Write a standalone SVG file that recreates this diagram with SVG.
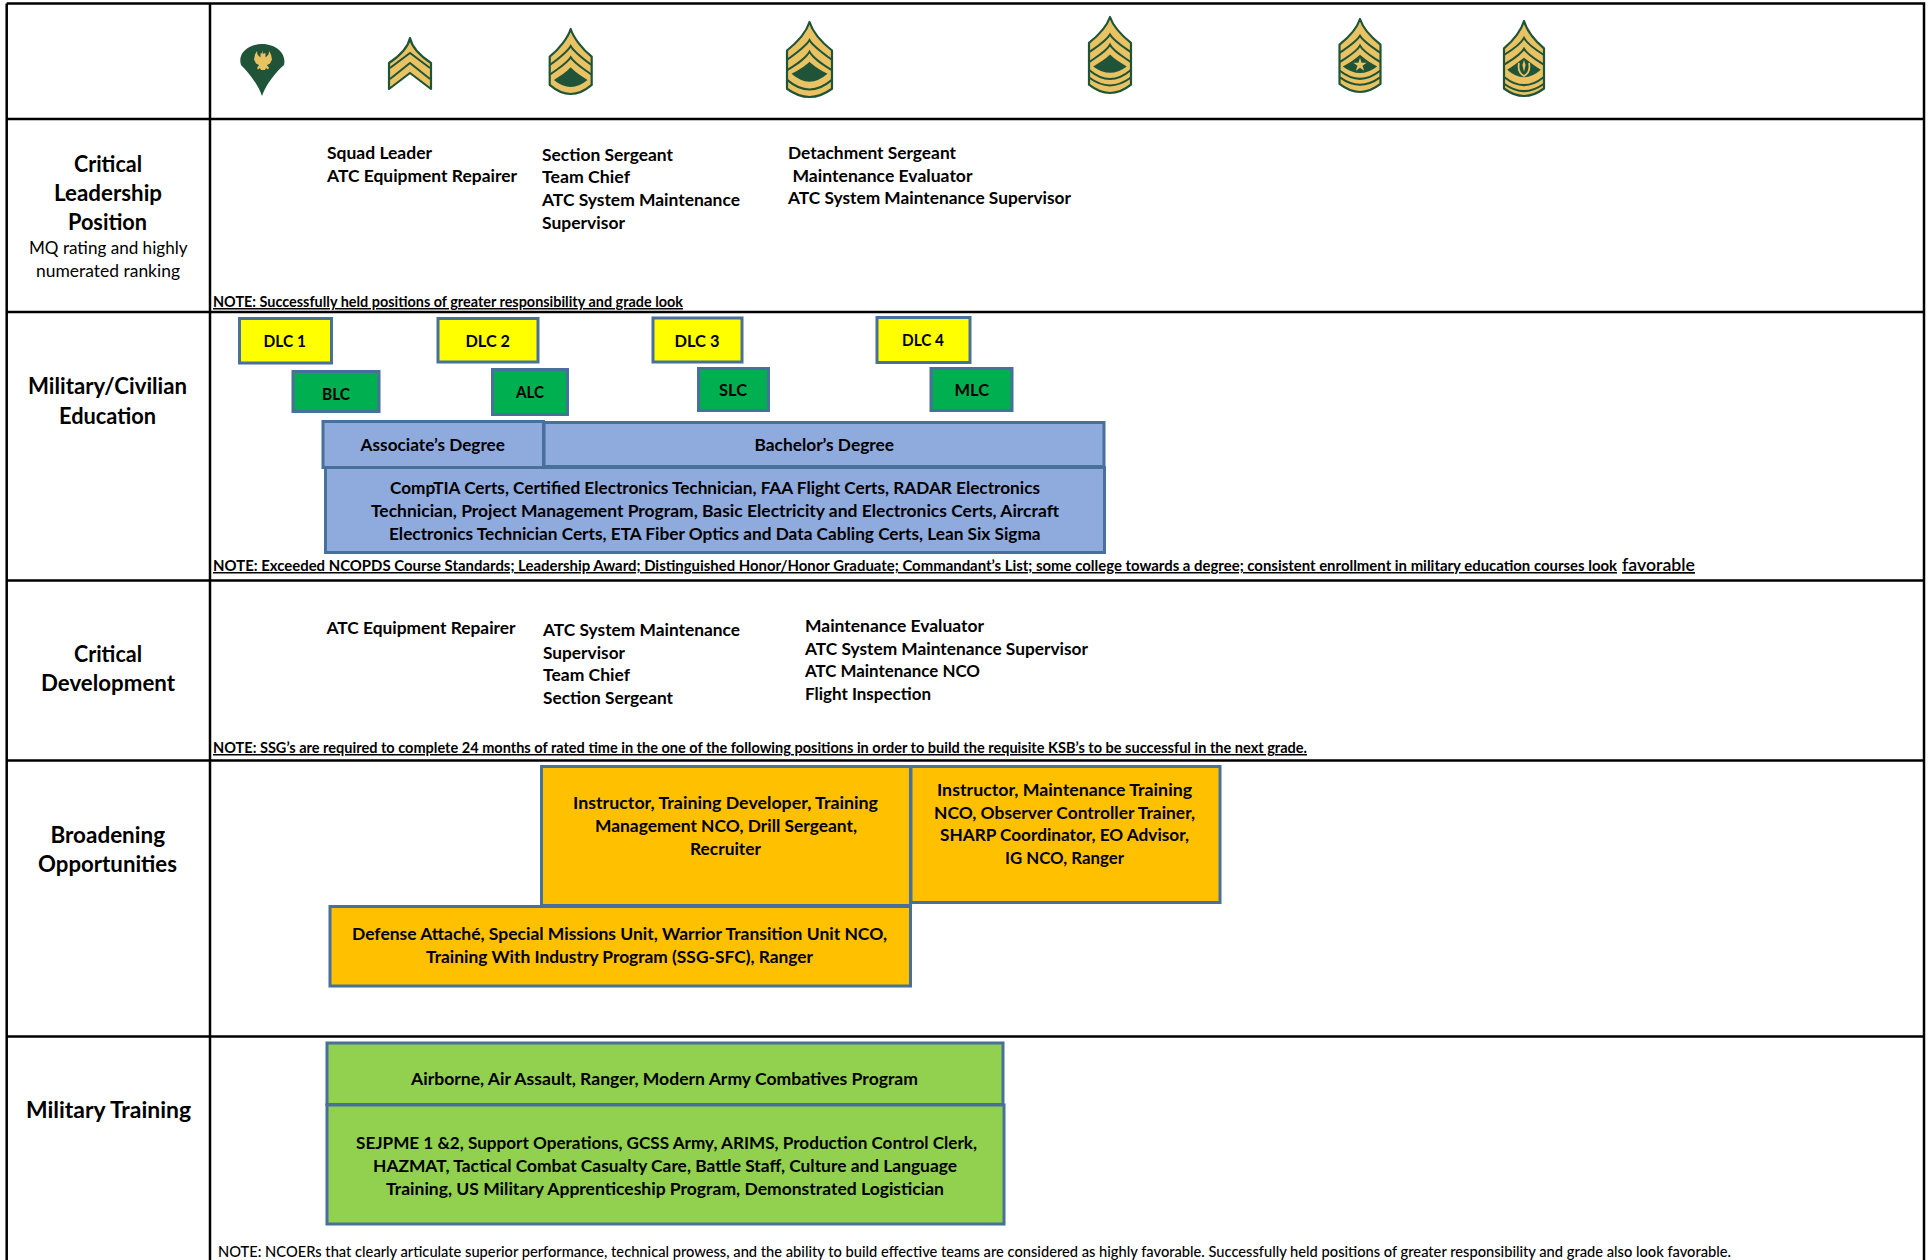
<svg xmlns="http://www.w3.org/2000/svg" width="1932" height="1260" viewBox="0 0 1932 1260">
<style>
text{font-family:"Lato","Liberation Sans",sans-serif;fill:#000;white-space:pre}
.h{font-size:22px;font-weight:700}
.s{font-size:17px;font-weight:400}
.t{font-size:17px;font-weight:700}
.n{font-size:15px;font-weight:700;text-decoration:underline}
.fav{font-size:17px;font-weight:600;text-decoration:underline}
.m{font-size:15px;font-weight:500}
.grid{stroke:#000;stroke-width:2.5;fill:none}
.box{stroke:#47719c;stroke-width:3}
.y{fill:#ffff00}.g{fill:#00b050}.b{fill:#8faadc}.o{fill:#ffc000}.l{fill:#92d050}
.bo{fill:#e9c263;stroke:#1f5438;stroke-width:2.2;stroke-linejoin:round;vector-effect:non-scaling-stroke}
.li{fill:none;stroke:#1f5438;stroke-width:2;vector-effect:non-scaling-stroke}
.le{fill:#1f5438;stroke:none}
.go{fill:#e9c263;stroke:none}
</style>
<g id="table" class="grid">
<path d="M6.7 3.500H1924V1260M6.700 3.500V1260M210 3.500V1260M6.700 119H1924M6.700 312H1924M6.700 580.500H1924M6.700 760.500H1924M6.700 1036.500H1924"/>
</g>
<g id="insignia">
<g id="spc">
<path class="le" d="M262 96C258 84 248 72 241 65C237 52 250 44 262 44C274 44 287 52 284 65C276 72 266 84 262 96Z"/>
<path class="go" d="M262 50l1.500 4 1-1 1 .5v4l3-3 .5-3.500 2 3.500 1 5-2 4-3 1.500 2 3-1 1.500-2-1.500-1 2h-4l-1-2-2 1.500-1-1.500 2-3-3-1.500-2-4 1-5 2-3.500 .5 3.500 3 3v-4l1-.5 1 1z"/>
</g>
<g id="sgt" transform="translate(410,38)">
<path class="bo" d="M0 0C2 10 12 19 21 25V51L0 35L-21 51V25C-12 19 -2 10 0 0Z"/>
<path class="li" d="M-20 30L0 15L20 30M-20 41L0 25L20 41"/>
</g>
<g id="ssg" transform="translate(570.7,29) scale(.42,.325)">
<path class="bo" d="M0 0C6 25 26 60 50 85V172Q25 200 0 200Q-25 200 -50 172V85C-26 60 -6 25 0 0Z"/>
<path class="li" d="M-49 110C-28 90 -8 70 0 52C8 70 28 90 49 110M-49 140C-28 120 -8 105 0 87C8 105 28 120 49 140"/>
<path class="le" d="M0 118C-10 132 -26 146 -40 157Q0 200 40 157C26 146 10 132 0 118Z"/>
</g>
<g id="sfc" transform="translate(809.5,22) scale(.45,.375)">
<path class="bo" d="M0 0C6 23 26 53 50 76V178Q25 200 0 200Q-25 200 -50 178V76C-26 53 -6 23 0 0Z"/>
<path class="li" d="M-49 100C-28 82 -8 65 0 48C8 65 28 82 49 100M-49 128C-28 112 -8 97 0 79C8 97 28 112 49 128M-49 155Q0 205 49 155"/>
<path class="le" d="M0 106C-10 118 -26 130 -40 138Q0 180 40 138C26 130 10 118 0 106Z"/>
</g>
<g id="msg" transform="translate(1110,17) scale(.42,.38)">
<path class="bo" d="M0 0C6 20 26 47 50 68V178Q25 200 0 200Q-25 200 -50 178V68C-26 47 -6 20 0 0Z"/>
<path class="li" d="M-49 92C-28 76 -8 62 0 46C8 62 28 76 49 92M-49 118C-28 102 -8 90 0 73C8 90 28 102 49 118M-49 140Q0 186 49 140M-49 160Q0 200 49 160"/>
<path class="le" d="M0 99C-12 112 -26 122 -40 130Q0 164 40 130C26 122 12 112 0 99Z"/>
</g>
<g id="sgm">
<g transform="translate(1360,19) scale(.41,.365)">
<path class="bo" d="M0 0C6 21 26 49 50 70V178Q25 200 0 200Q-25 200 -50 178V70C-26 49 -6 21 0 0Z"/>
<path class="li" d="M-49 92C-28 76 -8 62 0 46C8 62 28 76 49 92M-49 118C-28 102 -8 90 0 73C8 90 28 102 49 118M-49 142Q0 186 49 142M-49 160Q0 200 49 160"/>
<path class="le" d="M0 98C-12 110 -28 122 -42 130Q0 166 42 130C28 122 12 110 0 98Z"/>
</g>
<polygon class="go" transform="translate(1360,65)" points="0,-7 1.59,-2.18 6.66,-2.16 2.57,.83 4.11,5.66 0,2.7 -4.11,5.66 -2.57,.83 -6.66,-2.16 -1.59,-2.18"/>
</g>
<g id="csm">
<g transform="translate(1524,21) scale(.4,.375)">
<path class="bo" d="M0 0C6 22 26 51 50 73V180Q25 200 0 200Q-25 200 -50 180V73C-26 51 -6 22 0 0Z"/>
<path class="li" d="M-49 90C-28 76 -8 62 0 45C8 62 28 76 49 90M-49 116C-28 102 -8 90 0 74C8 90 28 102 49 116M-49 150Q0 192 49 150M-49 168Q0 206 49 168"/>
<path class="le" d="M0 98C-14 110 -30 122 -42 130Q0 170 42 130C30 122 14 110 0 98Z"/>
</g>
<path d="M1519 63Q1517 72 1524 76Q1531 72 1529 63" fill="none" stroke="#e9c263" stroke-width="1.8"/>
<path class="go" d="M1524 60l1.600 5-1.600 7-1.600-7z"/>
</g>
</g>
<g id="row-labels">
<g id="label-leadership">
<text class="h" x="74" y="172" textLength="68" lengthAdjust="spacingAndGlyphs">Critical</text>
<text class="h" x="54" y="201" textLength="108" lengthAdjust="spacingAndGlyphs">Leadership</text>
<text class="h" x="68" y="230" textLength="79" lengthAdjust="spacingAndGlyphs">Position</text>
<text class="s" x="29" y="254" textLength="158.500" lengthAdjust="spacingAndGlyphs">MQ rating and highly</text>
<text class="s" x="36" y="277" textLength="144" lengthAdjust="spacingAndGlyphs">numerated ranking</text>
</g>
<g id="label-education">
<text class="h" x="28" y="394" textLength="159" lengthAdjust="spacingAndGlyphs">Military/Civilian</text>
<text class="h" x="59" y="424" textLength="97" lengthAdjust="spacingAndGlyphs">Education</text>
</g>
<g id="label-development">
<text class="h" x="74" y="662" textLength="68" lengthAdjust="spacingAndGlyphs">Critical</text>
<text class="h" x="41" y="691" textLength="134" lengthAdjust="spacingAndGlyphs">Development</text>
</g>
<g id="label-broadening">
<text class="h" x="50.500" y="843" textLength="114.500" lengthAdjust="spacingAndGlyphs">Broadening</text>
<text class="h" x="38" y="872" textLength="139" lengthAdjust="spacingAndGlyphs">Opportunities</text>
</g>
<g id="label-training">
<text class="h" x="26" y="1118" textLength="165" lengthAdjust="spacingAndGlyphs">Military Training</text>
</g>
</g>
<g id="leadership-positions">
<text class="t" x="327" y="159" textLength="105" lengthAdjust="spacingAndGlyphs">Squad Leader</text>
<text class="t" x="327" y="182" textLength="190" lengthAdjust="spacingAndGlyphs">ATC Equipment Repairer</text>
<text class="t" x="542" y="161" textLength="131" lengthAdjust="spacingAndGlyphs">Section Sergeant</text>
<text class="t" x="542" y="183" textLength="88" lengthAdjust="spacingAndGlyphs">Team Chief</text>
<text class="t" x="542" y="206" textLength="198" lengthAdjust="spacingAndGlyphs">ATC System Maintenance</text>
<text class="t" x="542" y="229" textLength="83" lengthAdjust="spacingAndGlyphs">Supervisor</text>
<text class="t" x="788" y="159" textLength="168" lengthAdjust="spacingAndGlyphs">Detachment Sergeant</text>
<text class="t" x="792.500" y="182" textLength="180" lengthAdjust="spacingAndGlyphs">Maintenance Evaluator</text>
<text class="t" x="788" y="204" textLength="283" lengthAdjust="spacingAndGlyphs">ATC System Maintenance Supervisor</text>
<text class="n" x="213" y="307" textLength="470" lengthAdjust="spacingAndGlyphs">NOTE: Successfully held positions of greater responsibility and grade look</text>
</g>
<g id="education-note">
<text class="n" x="213" y="571" textLength="1404" lengthAdjust="spacingAndGlyphs">NOTE: Exceeded NCOPDS Course Standards; Leadership Award; Distinguished Honor/Honor Graduate; Commandant’s List; some college towards a degree; consistent enrollment in military education courses look</text>
<text class="fav" x="1622" y="571" textLength="73" lengthAdjust="spacingAndGlyphs">favorable</text>
</g>
<g id="dlc1"><rect class="box y" x="239.500" y="318.500" width="92" height="44.500"/><text class="t" x="263.600" y="347" textLength="42.400" lengthAdjust="spacingAndGlyphs">DLC 1</text></g>
<g id="dlc2"><rect class="box y" x="438" y="318.500" width="100" height="43.500"/><text class="t" x="465.500" y="347" textLength="44.500" lengthAdjust="spacingAndGlyphs">DLC 2</text></g>
<g id="dlc3"><rect class="box y" x="653" y="318" width="89" height="44"/><text class="t" x="674.500" y="347" textLength="45" lengthAdjust="spacingAndGlyphs">DLC 3</text></g>
<g id="dlc4"><rect class="box y" x="877" y="317.500" width="93" height="45"/><text class="t" x="902" y="346" textLength="42" lengthAdjust="spacingAndGlyphs">DLC 4</text></g>
<g id="blc"><rect class="box g" x="293" y="371.500" width="86" height="40"/><text class="t" x="322" y="400" textLength="28" lengthAdjust="spacingAndGlyphs">BLC</text></g>
<g id="alc"><rect class="box g" x="492.500" y="369.500" width="75" height="45"/><text class="t" x="516" y="398" textLength="28" lengthAdjust="spacingAndGlyphs">ALC</text></g>
<g id="slc"><rect class="box g" x="698.500" y="368.500" width="70" height="42"/><text class="t" x="719" y="396" textLength="28" lengthAdjust="spacingAndGlyphs">SLC</text></g>
<g id="mlc"><rect class="box g" x="931" y="368.500" width="81" height="42"/><text class="t" x="954.500" y="396" textLength="34.500" lengthAdjust="spacingAndGlyphs">MLC</text></g>
<g id="associate"><rect class="box b" x="323" y="421.500" width="220.500" height="46"/><text class="t" x="360.600" y="451" textLength="144.400" lengthAdjust="spacingAndGlyphs">Associate’s Degree</text></g>
<g id="bachelor"><rect class="box b" x="544" y="422.500" width="560" height="44"/><text class="t" x="754.500" y="451" textLength="139.500" lengthAdjust="spacingAndGlyphs">Bachelor’s Degree</text></g>
<g id="certs"><rect class="box b" x="325.500" y="467.500" width="779" height="85"/>
<text class="t" x="390" y="494" textLength="650" lengthAdjust="spacingAndGlyphs">CompTIA Certs, Certified Electronics Technician, FAA Flight Certs, RADAR Electronics</text>
<text class="t" x="371" y="517" textLength="688" lengthAdjust="spacingAndGlyphs">Technician, Project Management Program, Basic Electricity and Electronics Certs, Aircraft</text>
<text class="t" x="389" y="540" textLength="651.600" lengthAdjust="spacingAndGlyphs">Electronics Technician Certs, ETA Fiber Optics and Data Cabling Certs, Lean Six Sigma</text>
</g>
<g id="development-positions">
<text class="t" x="326.500" y="634" textLength="189" lengthAdjust="spacingAndGlyphs">ATC Equipment Repairer</text>
<text class="t" x="543" y="636" textLength="197" lengthAdjust="spacingAndGlyphs">ATC System Maintenance</text>
<text class="t" x="543" y="659" textLength="82" lengthAdjust="spacingAndGlyphs">Supervisor</text>
<text class="t" x="543" y="681" textLength="87" lengthAdjust="spacingAndGlyphs">Team Chief</text>
<text class="t" x="543" y="704" textLength="130" lengthAdjust="spacingAndGlyphs">Section Sergeant</text>
<text class="t" x="805" y="632" textLength="179" lengthAdjust="spacingAndGlyphs">Maintenance Evaluator</text>
<text class="t" x="805" y="655" textLength="283" lengthAdjust="spacingAndGlyphs">ATC System Maintenance Supervisor</text>
<text class="t" x="805" y="677" textLength="175" lengthAdjust="spacingAndGlyphs">ATC Maintenance NCO</text>
<text class="t" x="805" y="700" textLength="126" lengthAdjust="spacingAndGlyphs">Flight Inspection</text>
<text class="n" x="213" y="753" textLength="1094" lengthAdjust="spacingAndGlyphs">NOTE: SSG’s are required to complete 24 months of rated time in the one of the following positions in order to build the requisite KSB’s to be successful in the next grade.</text>
</g>
<g id="broadening-instructor"><rect class="box o" x="541.500" y="766.500" width="369" height="139"/>
<text class="t" x="573" y="809" textLength="305" lengthAdjust="spacingAndGlyphs">Instructor, Training Developer, Training</text>
<text class="t" x="595" y="832" textLength="262" lengthAdjust="spacingAndGlyphs">Management NCO, Drill Sergeant,</text>
<text class="t" x="690" y="855" textLength="71" lengthAdjust="spacingAndGlyphs">Recruiter</text>
</g>
<g id="broadening-maintenance"><rect class="box o" x="911" y="766.500" width="309" height="136"/>
<text class="t" x="937" y="796" textLength="255" lengthAdjust="spacingAndGlyphs">Instructor, Maintenance Training</text>
<text class="t" x="934" y="819" textLength="261" lengthAdjust="spacingAndGlyphs">NCO, Observer Controller Trainer,</text>
<text class="t" x="940" y="841" textLength="249" lengthAdjust="spacingAndGlyphs">SHARP Coordinator, EO Advisor,</text>
<text class="t" x="1005" y="864" textLength="119" lengthAdjust="spacingAndGlyphs">IG NCO, Ranger</text>
</g>
<g id="broadening-defense"><rect class="box o" x="330" y="906.500" width="580.500" height="79.500"/>
<text class="t" x="352" y="940" textLength="535" lengthAdjust="spacingAndGlyphs">Defense Attaché, Special Missions Unit, Warrior Transition Unit NCO,</text>
<text class="t" x="426" y="963" textLength="387" lengthAdjust="spacingAndGlyphs">Training With Industry Program (SSG-SFC), Ranger</text>
</g>
<g id="training-airborne"><rect class="box l" x="327" y="1043" width="676" height="61.500"/>
<text class="t" x="411" y="1085" textLength="507" lengthAdjust="spacingAndGlyphs">Airborne, Air Assault, Ranger, Modern Army Combatives Program</text>
</g>
<g id="training-sejpme"><rect class="box l" x="327" y="1105" width="677" height="119"/>
<text class="t" x="356" y="1149" textLength="621" lengthAdjust="spacingAndGlyphs">SEJPME 1 &amp;2, Support Operations, GCSS Army, ARIMS, Production Control Clerk,</text>
<text class="t" x="373" y="1172" textLength="584" lengthAdjust="spacingAndGlyphs">HAZMAT, Tactical Combat Casualty Care, Battle Staff, Culture and Language</text>
<text class="t" x="386" y="1195" textLength="558" lengthAdjust="spacingAndGlyphs">Training, US Military Apprenticeship Program, Demonstrated Logistician</text>
</g>
<g id="training-note">
<text class="m" x="218" y="1257" textLength="1513" lengthAdjust="spacingAndGlyphs">NOTE: NCOERs that clearly articulate superior performance, technical prowess, and the ability to build effective teams are considered as highly favorable. Successfully held positions of greater responsibility and grade also look favorable.</text>
</g>
</svg>
